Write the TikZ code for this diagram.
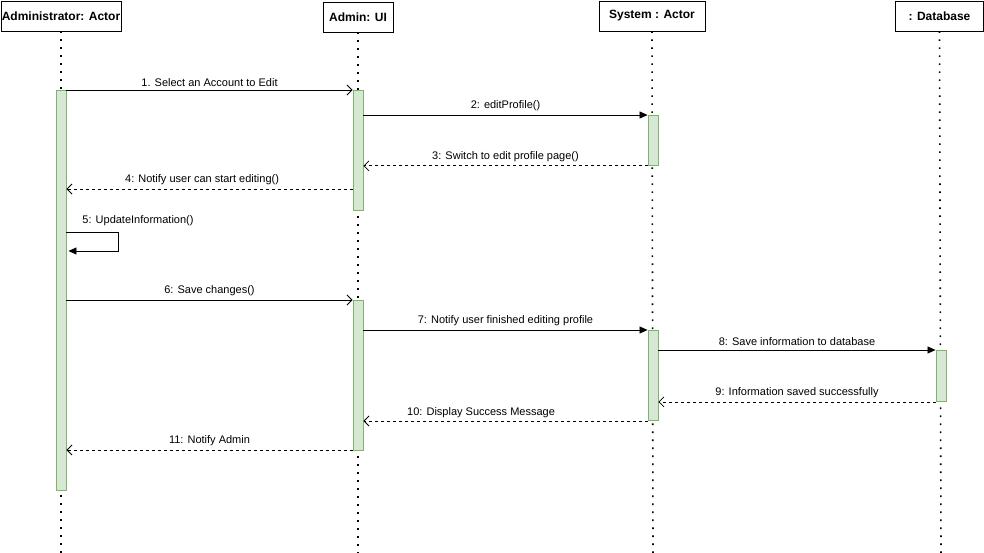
\documentclass[tikz,border=0pt]{standalone}
\usepackage{fontspec}
\setmainfont{Liberation Sans}
\usetikzlibrary{arrows.meta}
\definecolor{actfill}{HTML}{D5E8D4}
\definecolor{actline}{HTML}{82B366}
\begin{document}
\begin{tikzpicture}[x=1pt,y=-1pt,
  head/.style={draw=black, fill=white, line width=0.8pt, inner sep=0pt,
    font=\fontsize{12}{14}\selectfont\bfseries, minimum height=30pt},
  life/.style={line width=1.6pt, dash pattern=on 1.6pt off 6.4pt, line cap=butt},
  actbar/.style={draw=actline, fill=actfill, line width=0.9pt, minimum width=10pt,
    inner sep=0pt, anchor=north},
  call/.style={line width=0.8pt, -{Triangle[length=8pt,width=7pt]}},
  callopen/.style={line width=0.8pt, -{Straight Barb[length=5pt,width=10pt,line width=0.8pt]}},
  reply/.style={line width=0.8pt, dash pattern=on 3pt off 3pt,
    -{Straight Barb[length=5pt,width=10pt,line width=0.8pt]}},
  lbl/.style={font=\fontsize{11}{13}\selectfont, inner sep=0pt, fill=white}
]
\useasboundingbox (0,0) rectangle (984,553);

% participants
\node[head, minimum width=120pt] (hA) at (61,16) {Administrator: Actor};
\node[head, minimum width=70pt]  (hU) at (358,17) {Admin: UI};
\node[head, minimum width=106pt] (hS) at (652,16) {System : Actor};
\node[head, minimum width=88pt]  (hD) at (939.5,16) {: Database};

% lifeline ends
\coordinate (eA) at (61,553);
\coordinate (eU) at (358,553);
\coordinate (eS) at (653,553);
\coordinate (eD) at (941,553);

\draw[life] (hA.south) -- (eA);
\draw[life] (hU.south) -- (eU);
\draw[life] (hS.south) -- (eS);
\draw[life] (hD.south) -- (eD);

% activation bars
\node[actbar, minimum height=400pt] (a1) at (61,90) {};
\node[actbar, minimum height=120pt] (u1) at (358,90) {};
\node[actbar, minimum height=150pt] (u2) at (358,300) {};
\node[actbar, minimum height=50pt]  (s1) at (653,115) {};
\node[actbar, minimum height=90pt]  (s2) at (653,330) {};
\node[actbar, minimum height=51pt]  (d1) at (941,350) {};

% message levels
\coordinate (m4) at (0,189);
\coordinate (m5a) at (0,232);
\coordinate (m5b) at (0,251);
\coordinate (m10) at (0,421);
\coordinate (m11) at (0,450);
\coordinate (loop1) at (118,232);
\coordinate (loop2) at (118,251);

% messages
\draw[callopen] (a1.north east) -- node[lbl, above=3pt] {1. Select an Account to Edit} (u1.north west);
\draw[call] (u1.east |- s1.north) -- node[lbl, above=4pt] {2: editProfile()} (s1.north west);
\draw[reply] (s1.south west) -- node[lbl, above=4pt] {3: Switch to edit profile page()} (u1.east |- s1.south);
\draw[reply] (u1.west |- m4) -- node[lbl, above=4pt, pos=0.526] {4: Notify user can start editing()} (a1.east |- m4);
\draw[call] (a1.east |- m5a) -- (loop1) -- (loop2) -- ([xshift=2pt]a1.east |- m5b);
\node[lbl] (l5) at (138,221) {5: UpdateInformation()};
\draw[callopen] (a1.east |- u2.north) -- node[lbl, above=4pt] {6: Save changes()} (u2.north west);
\draw[call] (u2.east |- s2.north) -- node[lbl, above=4pt] {7: Notify user finished editing profile} (s2.north west);
\draw[call] (s2.east |- d1.north) -- node[lbl, above=4pt] {8: Save information to database} (d1.north west);
\draw[reply] (d1.south west) -- node[lbl, above=4pt] {9: Information saved successfully} (s2.east |- d1.south);
\draw[reply] (s2.west |- m10) -- node[lbl, above=3pt, pos=0.586] {10: Display Success Message} (u2.east |- m10);
\draw[reply] (u2.west |- m11) -- node[lbl, above=4pt] {11: Notify Admin} (a1.east |- m11);
\end{tikzpicture}
\end{document}
